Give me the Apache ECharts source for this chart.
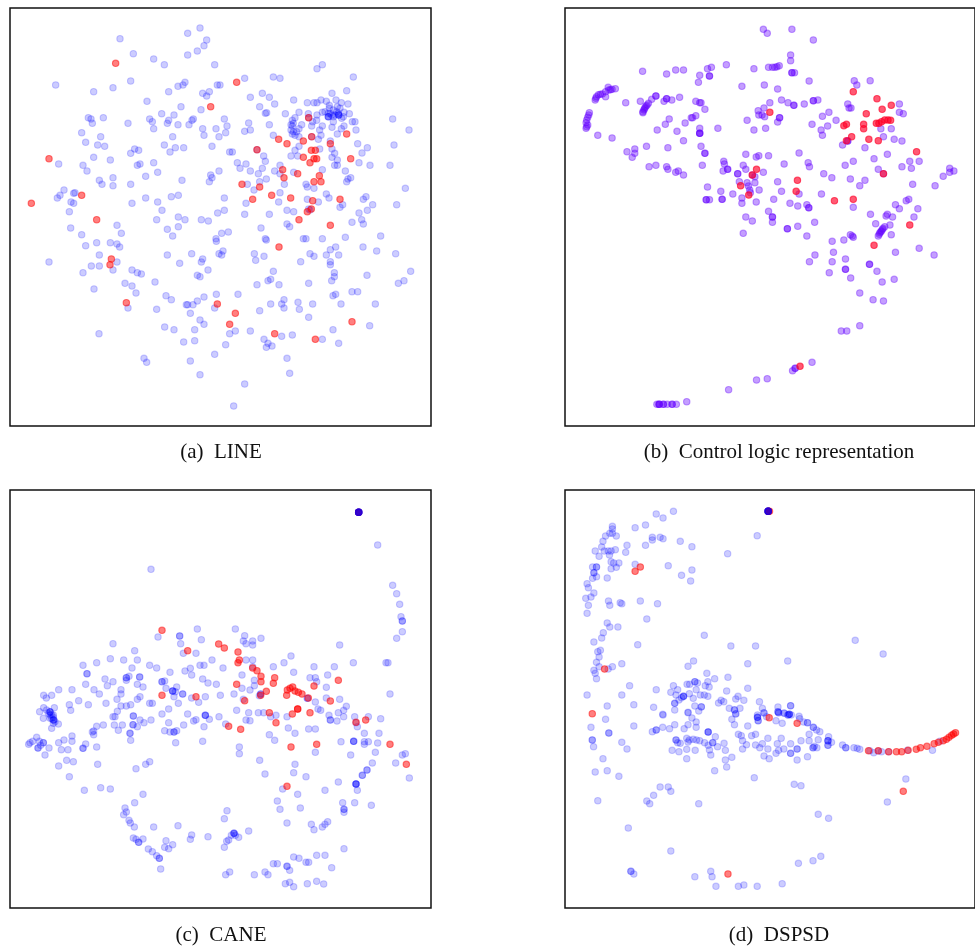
<!DOCTYPE html>
<html><head><meta charset="utf-8"><style>html,body{margin:0;padding:0;background:#fff;overflow:hidden}#c{width:975px;height:946px;filter:blur(0.45px)}</style>
<script src="https://cdn.jsdelivr.net/npm/echarts@6/dist/echarts.min.js"></script></head><body><div id="c"></div>
<script>
const captions=['(a)  LINE','(b)  Control logic representation','(c)  CANE','(d)  DSPSD'];
const lineBlue=[[360,116],[400,161],[461,177],[493,194],[563,100],[600,84],[620,120],[612,137],[592,153],[563,165],[644,194],[167,255],[281,275],[339,263],[392,243],[441,304],[506,275],[534,259],[549,255],[555,247],[608,280],[620,288],[628,275],[652,255],[660,255],[603,329],[543,320],[522,345],[485,341],[449,357],[457,365],[461,386],[502,370],[506,361],[534,374],[567,374],[576,361],[580,357],[608,386],[612,406],[648,386],[673,357],[681,378],[677,398],[657,410],[636,439],[518,410],[493,435],[526,443],[551,443],[510,456],[265,353],[273,357],[277,370],[310,353],[384,370],[245,398],[302,410],[257,427],[293,435],[314,439],[404,447],[416,451],[392,460],[281,472],[331,480],[176,492],[249,496],[261,513],[412,496],[420,492],[461,488],[473,517],[437,529],[339,533],[298,541],[306,553],[339,557],[392,553],[546,541],[628,545],[632,525],[636,533],[657,513],[689,456],[697,456],[712,488],[720,505],[192,570],[180,586],[172,594],[221,580],[225,578],[213,606],[221,610],[208,635],[396,610],[437,594],[473,606],[514,590],[535,586],[673,594],[486,631],[653,639],[673,631],[470,659],[535,651],[555,659],[604,659],[625,663],[351,676],[364,700],[212,684],[245,704],[502,688],[535,680],[518,708],[665,700],[685,696],[648,716],
[734,235],[820,231],[840,235],[951,206],[967,194],[1060,231],[1040,272],[996,280],[751,292],[787,280],[808,292],[824,312],[779,320],[796,340],[800,338],[881,300],[922,308],[942,308],[951,308],[963,300],[979,304],[1008,300],[1024,308],[1044,312],[856,341],[897,337],[925,341],[988,316],[988,325],[1012,320],[1020,325],[1032,337],[1048,341],[951,345],[967,337],[985,350],[985,350],[985,350],[1016,345],[1016,345],[1016,345],[1000,350],[885,353],[877,361],[873,374],[905,374],[897,386],[877,378],[873,390],[877,402],[885,406],[935,378],[967,378],[959,390],[963,406],[1000,365],[1032,378],[1057,365],[1065,365],[1024,386],[1068,390],[1012,402],[996,382],[950,361],[938,365],[746,369],[808,374],[734,394],[751,390],[820,406],[1178,357],[1227,390],[897,439],[885,451],[873,468],[893,468],[959,447],[955,418],[897,410],[991,423],[996,447],[1004,460],[996,472],[1012,480],[1004,496],[1012,496],[1073,431],[1102,443],[1086,459],[1077,488],[1110,496],[1182,435],[1170,496],[791,468],[796,484],[738,492],[787,505],[751,513],[775,521],[840,496],[824,513],[840,521],[881,517],[1036,513],[967,509],[1044,537],[1052,533],[1040,545],[799,537],[779,545],[742,553],[762,570],[853,553],[918,553],[922,561],[942,565],[840,578],[979,582],[987,594],[1216,565],[1098,590],[1090,598],[1118,614],[1102,631],[1077,639],[1085,659],[1090,672],[1190,614],[738,610],[836,606],[922,598],[955,606],[1028,614],[1020,622],[734,643],[808,643],[861,631],[881,635],[926,627],[861,672],[869,680],[1056,667],[783,684],[1142,708],[1036,712],[967,716],[910,716],[918,716],[796,716],[771,449],[935,410],[926,353],[930,630],[990,340],[1000,330],[1010,335],[1025,355],[985,340],[1015,340],[995,345],[1005,345],[975,335],[1030,350],[880,370],[890,395],[880,395],
[257,737],[290,728],[331,728],[351,732],[359,741],[298,765],[351,786],[298,798],[274,798],[249,818],[339,810],[147,786],[396,810],[412,818],[424,822],[375,850],[396,858],[408,879],[282,867],[465,846],[384,924],[498,887],[514,899],[470,928],[502,765],[539,790],[575,761],[608,777],[604,786],[624,810],[592,826],[600,830],[563,914],[559,914],[579,914],[592,903],[612,891],[649,883],[644,924],[571,940],[600,960],[612,973],[494,981],[522,989],[584,989],[297,1001],[551,1026],[584,1022],[432,1075],[440,1087],[571,1083],[600,1124],[644,1063],[677,1034],[689,1001],[706,993],[751,993],[734,1152],[701,1218],[714,883],[649,724],[669,753],[657,761],[665,765],[763,761],[767,781],[792,769],[820,814],[812,838],[804,842],[771,854],[837,854],[812,912],[779,932],[852,899],[845,912],[852,924],[894,907],[898,928],[938,912],[926,952],[926,850],[799,720],[792,1018],[804,1030],[816,1038],[799,1042],[845,1009],[877,1005],[861,1075],[869,1120],[930,761],[942,769],[902,785],[979,765],[991,749],[1007,741],[1016,765],[991,785],[991,794],[1089,741],[1130,753],[1187,761],[1003,818],[1003,830],[995,842],[1101,826],[1232,814],[1212,842],[1195,850],[1056,875],[1073,875],[1007,883],[999,887],[1023,912],[1126,912],[999,989],[1109,977],[967,1018],[1016,1030]];
const lineRed=[[347,190],[632,320],[147,476],[245,586],[94,610],[290,659],[710,247],[836,418],[861,431],[771,449],[910,423],[991,431],[1040,402],[1052,476],[935,410],[926,353],[934,451],[946,451],[910,472],[930,488],[942,476],[950,476],[848,509],[852,533],[893,521],[958,527],[942,545],[963,545],[726,553],[779,561],[815,586],[758,598],[872,594],[938,602],[1020,598],[934,627],[922,635],[897,659],[991,676],[334,777],[330,794],[379,908],[652,912],[706,940],[689,973],[837,741],[824,1001],[946,1018],[1056,965]];
const controlBlue=[[108,300],[110,295],[112,290],[118,284],[124,283],[130,282],[140,275],[150,270],[155,269],[160,268],[170,266],[148,262],[140,290],[90,338],[88,345],[85,352],[82,360],[80,368],[85,375],[82,380],[80,385],[116,406],[160,414],[254,214],[328,222],[356,210],[380,210],[430,226],[426,247],[454,206],[466,202],[460,228],[460,228],[512,194],[202,308],[247,304],[328,296],[328,296],[320,304],[344,300],[368,292],[282,298],[295,288],[295,288],[255,338],[258,330],[260,326],[262,322],[265,318],[268,315],[272,310],[255,335],[418,304],[430,308],[434,308],[446,328],[418,347],[408,353],[404,353],[336,357],[324,373],[299,390],[385,369],[360,394],[380,422],[430,385],[430,400],[430,400],[430,400],[486,385],[332,443],[266,439],[206,455],[230,447],[230,460],[222,472],[434,439],[446,460],[446,460],[274,500],[295,496],[328,500],[332,508],[356,517],[364,513],[380,525],[438,496],[626,88],[638,100],[714,88],[780,120],[710,165],[710,182],[597,206],[642,202],[654,202],[662,202],[668,200],[675,197],[714,218],[714,218],[722,218],[767,243],[560,259],[629,255],[670,267],[682,300],[702,308],[720,316],[720,316],[752,312],[780,302],[780,302],[794,300],[646,308],[628,324],[610,332],[612,345],[622,345],[630,350],[576,361],[676,353],[676,353],[670,366],[597,390],[633,385],[776,373],[808,349],[828,337],[850,361],[824,378],[804,390],[808,406],[886,312],[890,324],[896,324],[906,242],[914,255],[955,242],[1045,312],[1045,337],[1057,341],[988,386],[1020,386],[996,410],[1029,418],[1053,423],[870,435],[886,423],[886,423],[939,443],[1008,463],[967,476],[736,459],[572,463],[604,471],[612,467],[642,467],[690,492],[764,488],[768,500],[878,496],[903,484],[1077,484],[1106,484],[1053,500],[1082,505],[980,508],[996,521],[1200,505],[1213,513],[1200,517],[1180,529],[1155,557],[1086,553],[939,541],[923,557],[894,537],[812,521],[837,533],[504,484],[506,492],[516,508],[516,508],[502,513],[564,496],[572,508],[547,521],[547,521],[592,525],[626,517],[600,530],[600,548],[552,545],[576,548],[580,558],[584,570],[586,578],[613,570],[670,545],[682,574],[736,582],[805,582],[454,561],[495,574],[532,582],[450,599],[450,599],[460,599],[499,598],[499,598],[560,594],[560,610],[604,606],[658,598],[708,610],[732,618],[760,614],[766,623],[766,623],[903,622],[1033,614],[1045,626],[1066,602],[1074,598],[1102,626],[1090,651],[956,643],[1008,643],[1004,648],[1024,651],[1016,675],[972,671],[642,634],[654,651],[654,651],[654,667],[572,651],[592,663],[700,686],[700,686],[732,679],[784,667],[564,700],[760,708],[900,708],[894,704],[1020,704],[980,708],[983,703],[985,698],[988,695],[990,692],[993,688],[995,685],[1000,680],
[838,724],[874,720],[903,712],[1033,757],[1106,745],[1152,765],[842,757],[785,765],[768,785],[838,785],[879,777],[829,818],[879,808],[879,808],[953,793],[953,793],[976,814],[895,834],[992,846],[1029,838],[923,879],[964,899],[996,903],[923,977],[866,993],[883,993],[776,1087],[724,1105],[724,1105],[716,1112],[638,1136],[605,1140],[519,1169],[390,1205],[358,1213],[345,1213],[345,1213],[330,1213],[318,1213],[318,1213],[305,1213],[305,1213],[305,1213],[298,1213]];
const controlRed=[[903,275],[976,296],[1020,316],[992,328],[943,341],[646,337],[874,377],[882,373],[935,373],[935,386],[974,370],[982,370],[990,365],[1000,360],[1010,360],[1018,361],[898,410],[882,422],[951,418],[980,422],[1098,455],[605,508],[592,525],[556,557],[581,585],[731,541],[727,574],[845,602],[903,598],[996,521],[1077,675],[967,736],[739,1099]];
const caneBlue=[[1076,82],[1076,82],[1076,82],[1076,82],[1076,82],[1076,82],[1076,82],[1076,82],[1076,82],[1076,82],[1133,180],[453,253],[1178,301],[1190,326],[1199,358],[1203,395],[1207,408],[1207,408],[1207,440],[1190,460],[1019,480],[1060,533],[1158,533],[1164,533],[1170,627],[706,432],[592,432],[734,452],[730,468],[738,476],[758,468],[758,480],[783,460],[539,453],[539,453],[474,456],[604,464],[542,476],[588,505],[550,505],[339,476],[404,497],[331,521],[371,525],[412,525],[290,533],[249,541],[449,541],[470,549],[396,549],[261,566],[261,566],[510,562],[555,558],[571,550],[575,570],[600,541],[612,541],[669,549],[636,525],[738,525],[758,525],[758,545],[852,533],[873,513],[820,545],[942,545],[1003,545],[881,562],[983,570],[726,570],[930,578],[946,578],[950,590],[763,586],[608,582],[624,594],[649,598],[315,582],[339,590],[322,602],[257,598],[379,578],[379,578],[387,574],[379,586],[419,576],[419,576],[412,598],[429,606],[486,590],[486,590],[494,588],[498,610],[530,606],[518,618],[518,618],[518,618],[526,620],[548,627],[548,627],[522,635],[176,614],[216,614],[282,614],[298,627],[363,614],[363,627],[351,643],[412,643],[420,635],[131,631],[139,639],[155,631],[236,647],[208,659],[265,659],[318,655],[449,655],[457,655],[363,663],[379,663],[392,659],[575,639],[596,652],[616,635],[661,631],[702,627],[726,610],[750,615],[763,602],[782,627],[782,627],[778,632],[535,655],[506,672],[730,643],[922,640],[922,640],[946,651],[954,672],[962,676],[1019,643],[979,607],[979,639],[1039,664],[1031,676],[710,676],[131,668],[163,668],[212,676],[119,680],[150,680],[150,680],[150,700],[155,700],[160,705],[160,705],[150,690],[145,685],[160,690],[165,710],
[140,675],[150,681],[155,689],[160,697],[162,705],[160,715],[175,717],[155,730],[130,700],[352,679],[345,695],[339,695],[400,693],[400,693],[420,705],[432,713],[453,705],[412,725],[399,719],[399,719],[343,720],[367,720],[355,736],[310,720],[290,724],[281,738],[277,741],[281,749],[390,745],[390,745],[392,766],[486,687],[563,687],[506,713],[551,720],[581,708],[588,704],[612,725],[616,691],[616,691],[616,691],[628,703],[657,695],[677,717],[746,683],[775,683],[791,683],[738,705],[750,707],[812,695],[828,691],[861,695],[865,729],[885,745],[808,749],[824,766],[926,732],[946,732],[987,691],[991,705],[991,705],[1011,708],[1015,683],[1031,695],[1064,695],[1068,713],[1072,725],[1105,695],[1142,701],[1093,745],[1137,745],[1023,770],[1093,770],[1105,770],[1093,778],[1133,774],[1126,802],[1052,810],[946,802],[1117,834],[1187,834],[1207,810],[1216,806],[1101,855],[1101,855],[1087,871],[1087,871],[1228,879],[1068,897],[1068,897],[1068,897],[1068,897],[1072,916],[1015,891],[975,916],[1064,953],[1114,961],[1028,953],[1032,973],[1032,973],[1032,982],[983,1010],[975,1018],[967,1026],[942,1034],[934,1018],[1032,1091],[861,1014],[901,969],[893,928],[832,948],[840,973],[848,912],[918,875],[881,863],[885,838],[795,867],[779,826],[494,737],[510,741],[522,741],[522,741],[530,737],[527,773],[608,769],[718,786],[718,806],[110,757],[90,773],[98,769],[86,778],[118,769],[130,773],[130,773],[122,781],[114,789],[114,789],[147,789],[135,810],[176,773],[192,765],[216,753],[216,769],[184,794],[204,794],[257,777],[249,790],[249,790],[290,786],[176,843],[200,826],[220,830],[293,838],[208,875],[253,916],[302,908],[331,912],[408,851],[437,838],[449,830],[429,928],[404,953],[375,969],[379,981],[371,989],[387,1006],[391,1014],[403,1026],[461,1026],[534,1022],[400,1059],[408,1063],[416,1072],[416,1072],[429,1062],[445,1092],[457,1100],[470,1112],[478,1120],[478,1120],[482,1152],[498,1067],[518,1079],[494,1087],[506,1091],[575,1050],[571,1063],[624,1055],[673,1001],[681,977],[746,1038],[702,1045],[702,1045],[702,1045],[694,1051],[706,1051],[716,1057],[686,1065],[680,1069],[673,1087],[689,1161],[677,1169],[763,1169],[795,1161],[804,1169],[820,1136],[832,1136],[861,1144],[861,1144],[869,1156],[881,1116],[897,1120],[918,1132],[926,1132],[950,1111],[975,1111],[995,1148],[856,1196],[869,1192],[881,1205],[922,1196],[950,1189],[971,1197],[1061,769],[1061,769],[1061,769]];
const caneRed=[[1076,82],[486,436],[563,497],[656,477],[673,489],[714,501],[718,525],[714,533],[758,549],[771,557],[783,574],[783,590],[824,578],[820,595],[799,619],[710,598],[942,603],[1015,586],[486,631],[588,635],[782,631],[734,647],[862,615],[870,610],[878,606],[885,618],[895,622],[906,627],[860,631],[925,639],[991,648],[808,683],[828,713],[877,687],[893,672],[893,672],[930,683],[686,724],[722,733],[1068,712],[1097,705],[873,786],[950,778],[1170,778],[1219,838],[861,904]];
const caneTop=[[1076,82],[1076,82],[1076,82],[1076,82]];
const dspsdBlue=[[641,79],[641,79],[641,79],[641,79],[641,79],[641,79],[641,79],[641,79],[641,79],[641,79],[349,79],[296,87],[317,99],[263,120],[231,128],[161,124],[161,132],[153,145],[140,153],[161,145],[173,153],[132,169],[128,186],[108,198],[120,214],[136,198],[148,198],[157,198],[170,194],[152,210],[206,181],[202,202],[263,181],[284,157],[284,165],[308,157],[317,161],[370,169],[406,185],[516,206],[607,152],[157,230],[165,234],[181,234],[173,247],[157,251],[100,246],[112,246],[112,246],[104,263],[104,263],[112,275],[100,280],[145,279],[231,238],[333,242],[374,271],[406,255],[402,288],[83,296],[87,308],[104,324],[79,340],[95,336],[87,361],[83,385],[149,348],[153,361],[185,353],[190,356],[247,348],[300,356],[267,402],[145,414],[153,426],[178,426],[133,443],[128,459],[104,471],[116,500],[124,496],[120,516],[112,532],[120,545],[104,556],[108,565],[112,581],[148,552],[161,545],[190,536],[239,479],[444,451],[526,483],[602,483],[909,466],[995,507],[701,528],[578,536],[411,528],[394,544],[214,602],[83,630],[190,630],[296,614],[145,663],[227,659],[288,667],[452,565],[476,581],[455,590],[517,577],[578,610],[513,618],[447,602],[459,606],[415,590],[415,590],[423,594],[391,598],[399,598],[349,602],[362,614],[341,622],[357,630],[419,614],[398,626],[380,634],[380,634],[380,634],[374,638],[410,640],[432,630],[444,630],[455,634],[366,645],[353,655],[353,655],[353,675],[415,663],[435,665],[427,678],[394,682],[316,688],[548,634],[541,642],[566,646],[496,646],[488,654],[504,650],[521,670],[537,675],[554,670],[541,686],[614,650],[623,670],[671,666],[710,662],[710,662],[628,684],[671,680],[671,680],[690,684],[706,688],[706,688],[706,688],[736,694],[608,690],
[317,690],[140,703],[95,727],[150,744],[150,744],[227,723],[99,765],[99,765],[103,785],[190,772],[206,792],[132,821],[108,861],[145,857],[181,874],[116,947],[267,948],[276,956],[288,931],[308,906],[333,906],[341,919],[427,956],[210,1029],[341,1098],[218,1159],[218,1159],[227,1167],[415,1175],[464,1159],[468,1175],[480,1204],[549,1204],[566,1200],[607,1204],[684,1196],[734,1135],[779,1127],[803,1114],[795,988],[827,1000],[721,898],[742,902],[598,878],[1008,951],[1065,882],[284,740],[296,735],[296,735],[316,727],[337,731],[353,719],[382,731],[394,719],[419,711],[419,727],[406,699],[394,683],[529,703],[537,719],[541,687],[537,674],[435,666],[357,765],[357,765],[362,773],[370,775],[390,760],[398,765],[410,763],[420,765],[430,767],[445,773],[456,741],[456,741],[456,741],[478,755],[470,773],[470,773],[456,781],[460,795],[464,810],[485,785],[505,775],[509,796],[345,796],[366,800],[390,793],[394,771],[416,796],[390,821],[509,825],[529,817],[513,846],[476,857],[549,748],[558,752],[562,767],[574,779],[562,792],[578,723],[590,752],[602,748],[602,780],[623,776],[628,813],[644,821],[615,788],[640,760],[640,792],[665,805],[681,760],[669,776],[673,796],[689,792],[710,776],[710,805],[710,805],[742,767],[730,792],[730,792],[730,825],[767,748],[767,767],[762,815],[779,788],[779,788],[783,784],[795,764],[791,788],[827,755],[825,767],[825,767],[825,767],[825,781],[825,781],[836,772],[608,697],[608,697],[608,697],[610,707],[610,707],[628,683],[636,695],[673,683],[673,683],[665,707],[684,715],[690,685],[702,690],[702,690],[712,690],[738,701],[750,711],[762,713],[762,713],[780,727],[780,727],[790,735],[800,740],[870,780],[880,788],[880,788],[905,788],[915,790],[923,793],[954,797],[966,803],[980,798],[990,800],[1012,800],[1070,796],[1147,796],[1170,769]];
const dspsdRed=[[641,79],[645,79],[247,246],[231,259],[137,552],[99,686],[644,698],[730,715],[950,797],[980,797],[1012,800],[1036,800],[1052,800],[1072,796],[1097,793],[1110,788],[1130,784],[1152,776],[1165,772],[1180,767],[1190,763],[1198,757],[1206,751],[1212,747],[1218,743],[1057,919],[517,1167]];
const dspsdTop=[[641,79],[641,79],[641,79],[641,79],[641,79]];

const panels=[
 {l:10,t:8,x0:30,y0:24,series:[[lineBlue,'b'],[lineRed,'r']]},
 {l:565,t:8,x0:15,y0:24,series:[[controlBlue,'p'],[controlRed,'R']]},
 {l:10,t:490,x0:30,y0:15,series:[[caneBlue,'b'],[caneRed,'r'],[caneTop,'b']]},
 {l:565,t:490,x0:15,y0:15,series:[[dspsdBlue,'b'],[dspsdRed,'r'],[dspsdTop,'b']]}
];
const W=421,H=418;
const paint={b:'rgba(0,0,255,0.2)',p:'rgba(100,0,255,0.38)',r:'rgba(255,0,0,0.5)',R:'rgba(255,0,40,0.65)'};
const capX=[221,779,221,779],capY=[442,442,925,925];
const option={animation:false,backgroundColor:'#fff',
 title:captions.map((c,i)=>({text:c,left:capX[i],top:capY[i],padding:0,textAlign:'center',textStyle:{fontFamily:'Liberation Serif',fontSize:21,fontWeight:'normal',color:'#111'}})),
 grid:panels.map(p=>({left:p.l,top:p.t,width:W,height:H,show:true,borderColor:'#111',borderWidth:1.5,backgroundColor:'#fff',containLabel:false})),
 xAxis:panels.map((p,i)=>({gridIndex:i,type:'value',show:false,min:p.x0,max:p.x0+W*3})),
 yAxis:panels.map((p,i)=>({gridIndex:i,type:'value',show:false,inverse:true,min:p.y0,max:p.y0+H*3})),
 series:panels.flatMap((p,i)=>p.series.map(([d,k])=>({type:'scatter',xAxisIndex:i,yAxisIndex:i,data:d,symbolSize:6.4,silent:true,progressive:0,large:false,
   itemStyle:{color:paint[k],borderColor:paint[k],borderWidth:1.1,opacity:1}})))
};
echarts.init(document.getElementById('c'),null,{renderer:'canvas'}).setOption(option);
</script></body></html>
